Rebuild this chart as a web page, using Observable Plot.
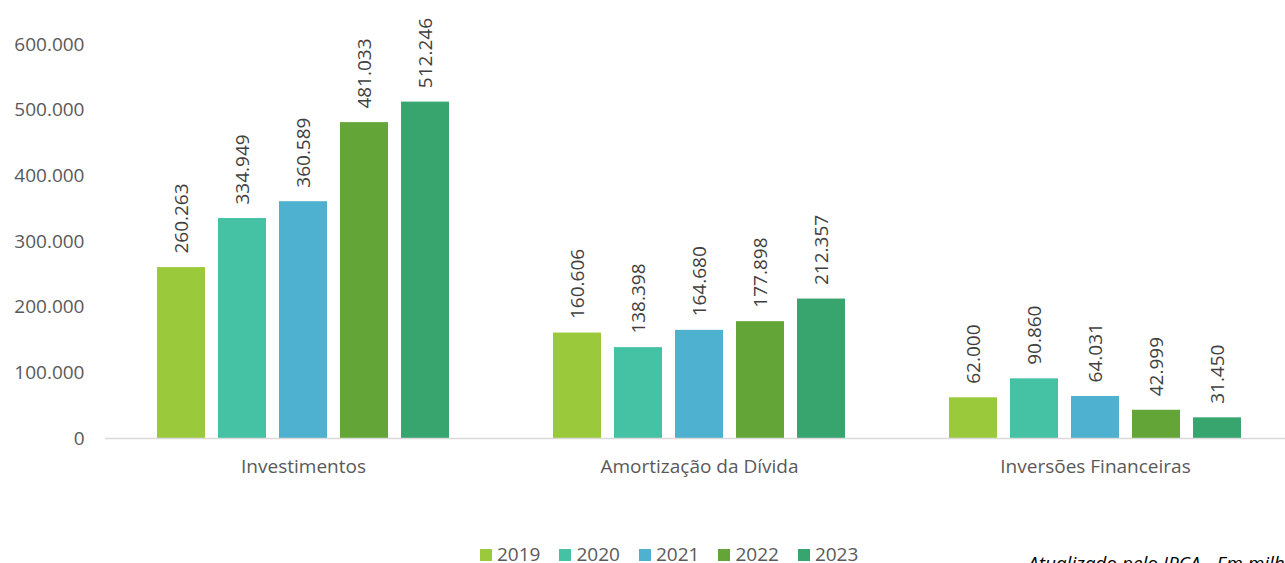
<!DOCTYPE html>
<html>
<head>
<meta charset="utf-8">
<script src="https://cdn.jsdelivr.net/npm/d3@7"></script>
<script src="https://cdn.jsdelivr.net/npm/@observablehq/plot@0.6"></script>
<style>
  html, body { margin: 0; padding: 0; background: #fff; overflow: hidden; }
  #wrap { position: relative; width: 1293px; height: 563px; overflow: hidden; font-family: "Open Sans", sans-serif; }
  #chart { position: absolute; left: 0; top: 0; }
  #legend { position: absolute; left: 480px; top: 546px; display: flex; font-size: 19px; color: #595959; line-height: 16px; }
  .item { display: flex; align-items: center; margin-right: 19px; }
  .sw { width: 12px; height: 12px; margin-right: 5px; margin-top: 2px; }
  #caption { position: absolute; left: 1028px; top: 555px; font-size: 19px; font-style: italic; color: #000; white-space: nowrap; line-height: 16px; }
</style>
</head>
<body>
<div id="wrap">
  <div id="chart"></div>
  <div id="legend"></div>
  <div id="caption">Atualizado pelo IPCA - Em milhões</div>
</div>
<script>
const categories = ["Investimentos", "Amortização da Dívida", "Inversões Financeiras"];
const years = ["2019", "2020", "2021", "2022", "2023"];
const colors = ["#9ACA3C", "#45C1A4", "#4EB1CF", "#63A537", "#38A56E"];
const investimentos = [260263, 334949, 360589, 481033, 512246];
const amortizacao = [160606, 138398, 164680, 177898, 212357];
const inversoes = [62000, 90860, 64031, 42999, 31450];
const yTicks = [0, 100000, 200000, 300000, 400000, 500000, 600000];

const series = [investimentos, amortizacao, inversoes];
const data = [];
categories.forEach((c, i) => years.forEach((y, j) => data.push({category: c, year: y, value: series[i][j]})));

const fmt = v => d3.format(",")(v).replace(/,/g, ".");

const chart = Plot.plot({
  width: 1293,
  height: 490,
  marginLeft: 105,
  marginRight: 0,
  marginTop: 44,
  marginBottom: 52,
  style: { fontFamily: "Open Sans, sans-serif", fontSize: "19px", color: "#595959", background: "transparent" },
  fx: { domain: categories, padding: 0, label: null },
  x: { domain: years, paddingInner: 0.213, paddingOuter: 0.85, axis: null },
  y: { domain: [0, 600000], axis: null },
  color: { domain: years, range: colors },
  marks: [
    Plot.axisY(yTicks, { tickSize: 0, tickPadding: 21, tickFormat: fmt, label: null, fill: "#595959", fontSize: 19 }),
    Plot.axisFx({ anchor: "bottom", tickSize: 0, tickPadding: 21, label: null, fill: "#595959", fontSize: 19 }),
    Plot.barY(data, { fx: "category", x: "year", y: "value", fill: "year" }),
    Plot.text(data, { fx: "category", x: "year", y: "value", text: d => fmt(d.value), rotate: -90, textAnchor: "start", lineAnchor: "middle", dy: -14, fill: "#404040", fontSize: 19 }),
    Plot.ruleY([0], { stroke: "#d9d9d9", strokeWidth: 1.5 })
  ]
});
document.getElementById("chart").appendChild(chart);

const legend = document.getElementById("legend");
years.forEach((y, i) => {
  const it = document.createElement("div");
  it.className = "item";
  const sw = document.createElement("span");
  sw.className = "sw";
  sw.style.background = colors[i];
  const t = document.createElement("span");
  t.textContent = y;
  it.appendChild(sw); it.appendChild(t);
  legend.appendChild(it);
});
</script>
</body>
</html>
